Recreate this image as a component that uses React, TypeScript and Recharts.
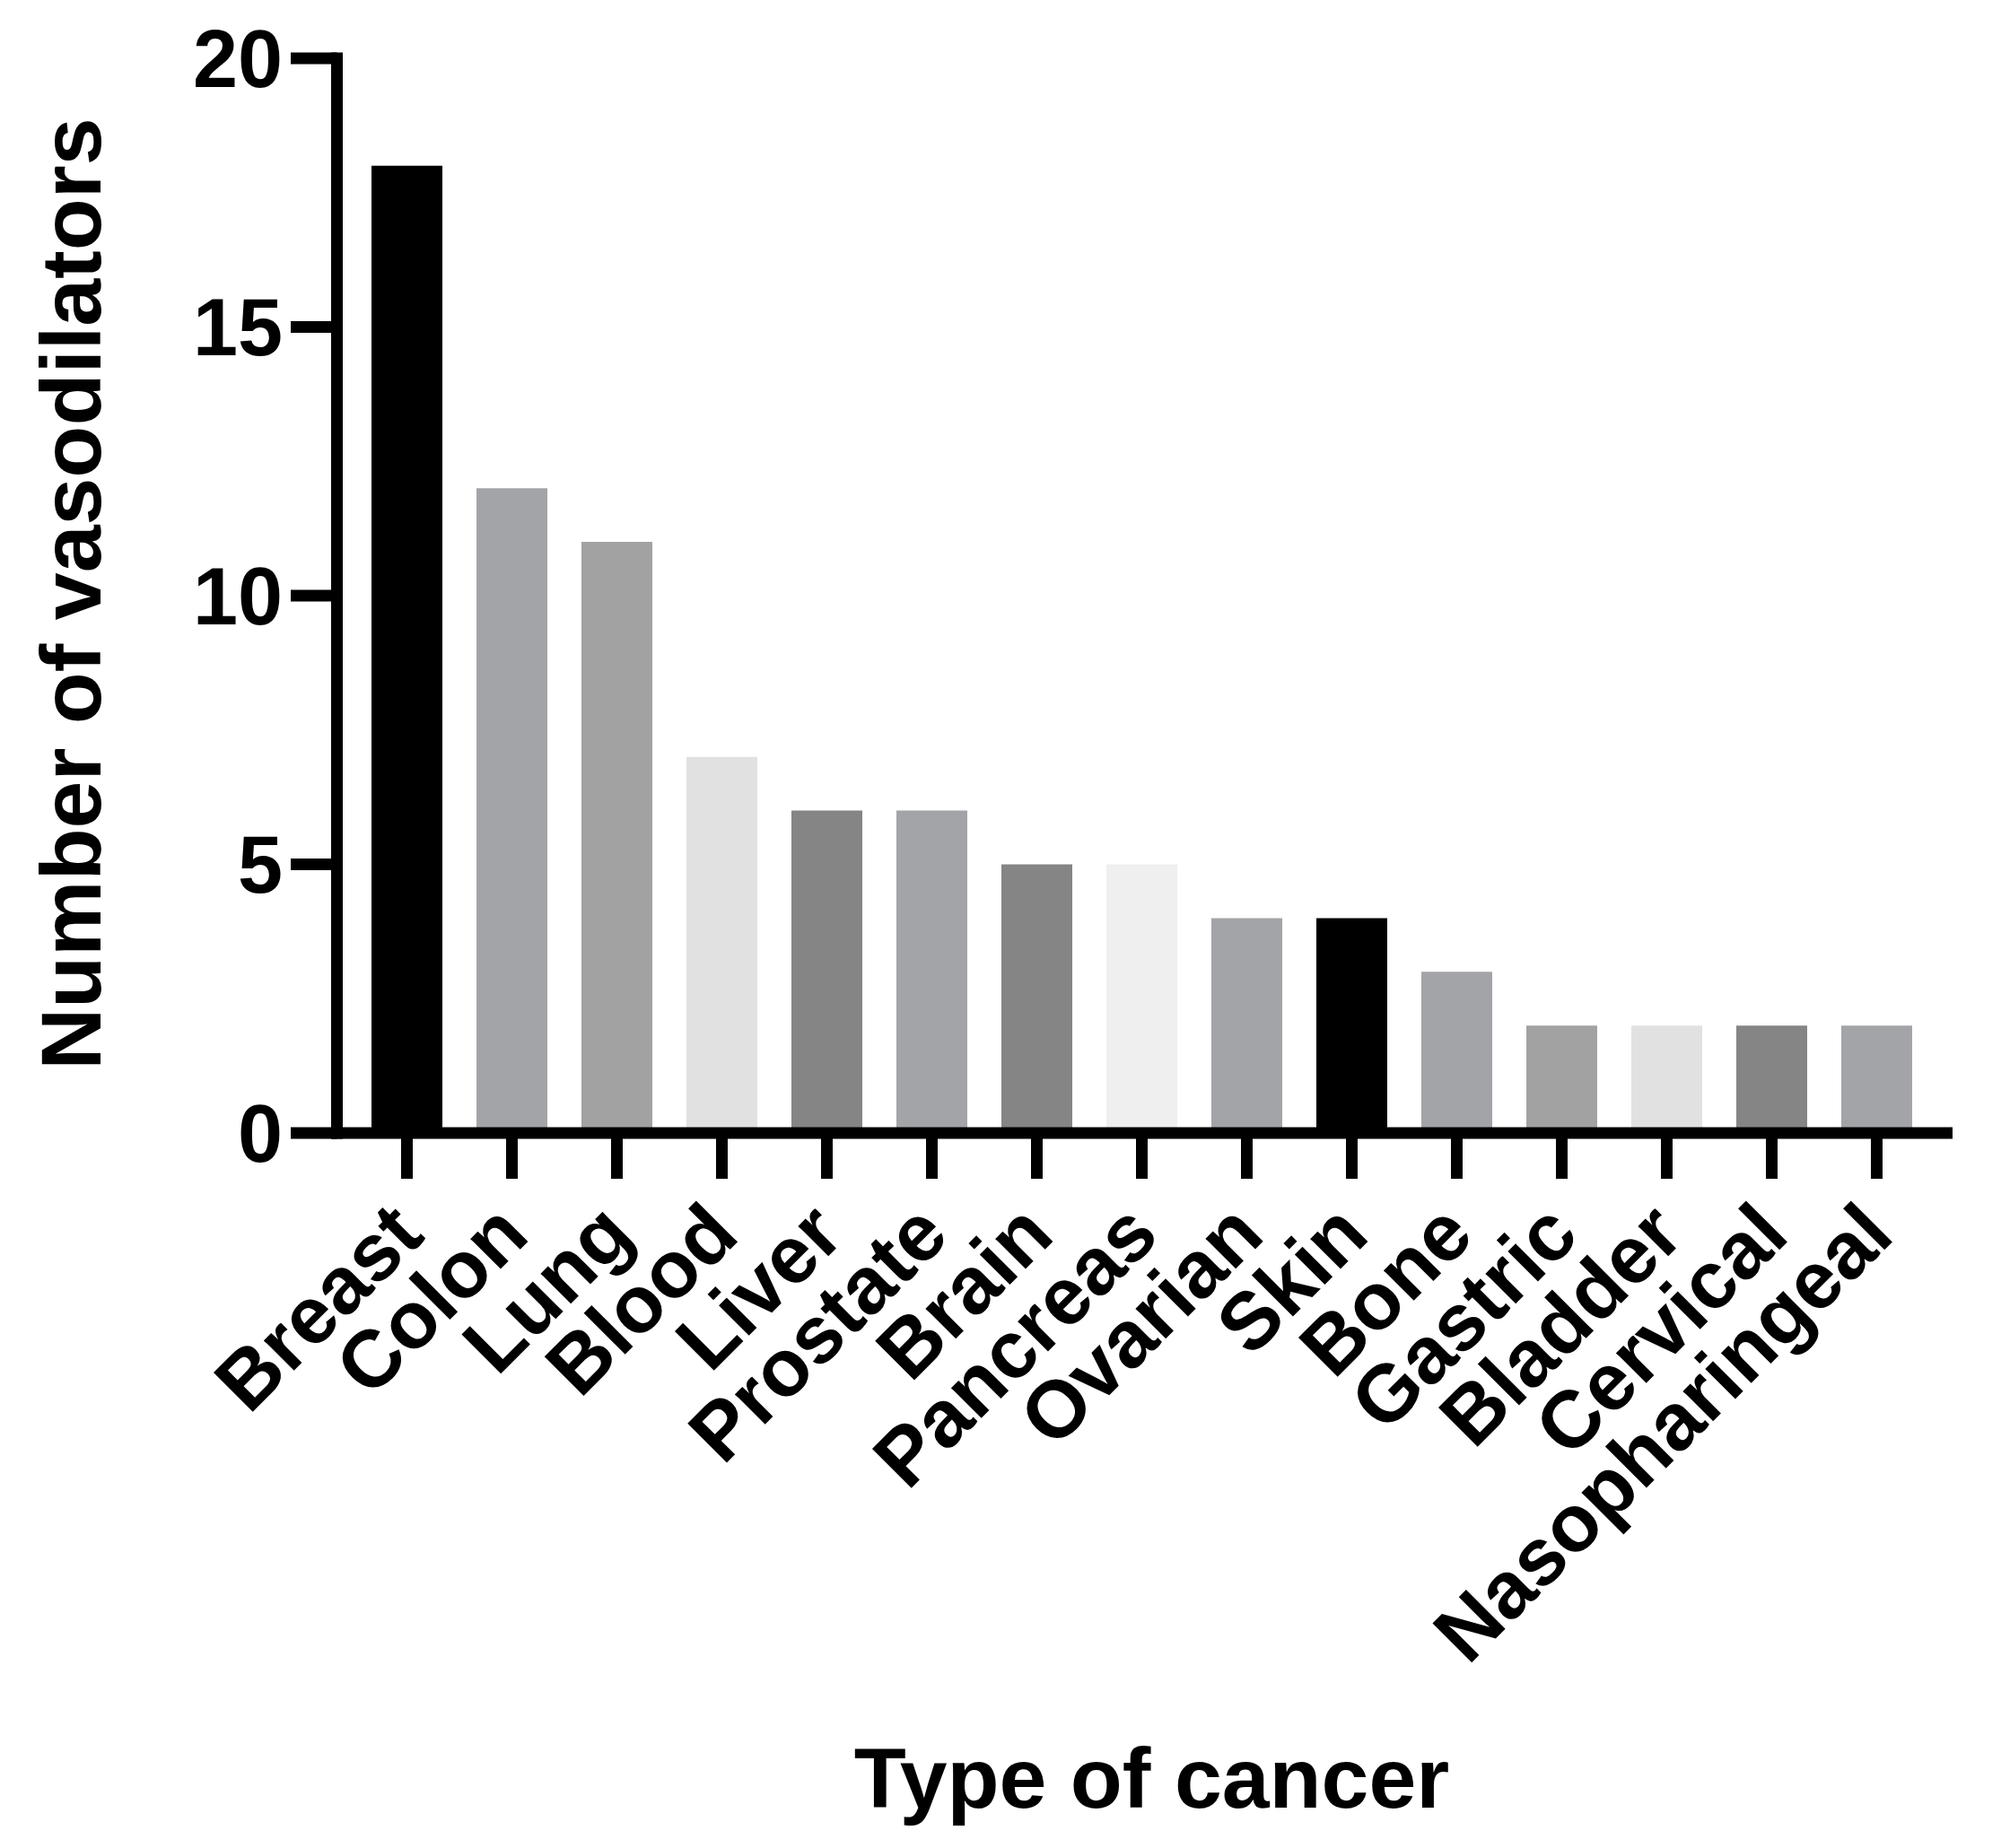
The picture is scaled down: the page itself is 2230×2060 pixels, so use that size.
import React from "react";
import { BarChart, Bar, XAxis, YAxis, Cell } from "recharts";

const categories = [
  "Breast", "Colon", "Lung", "Blood", "Liver", "Prostate", "Brain", "Pancreas",
  "Ovarian", "Skin", "Bone", "Gastric", "Bladder", "Cervical", "Nasopharingeal",
];
const counts = [18, 12, 11, 7, 6, 6, 5, 5, 4, 4, 3, 2, 2, 2, 2];
const barColors = [
  "#000000", "#a3a4a8", "#a2a2a2", "#e1e1e1", "#858585", "#a3a4a8", "#858585", "#efefef",
  "#a3a4a8", "#000000", "#a3a4a8", "#a2a2a2", "#e1e1e1", "#858585", "#a3a4a8",
];
const yTicks = [0, 5, 10, 15, 20];
const yTitle = "Number of vasodilators";
const xTitle = "Type of cancer";

const data = categories.map((c, i) => ({ name: c, value: counts[i] }));

const FONT = "'Liberation Sans', Arial, Helvetica, sans-serif";

const CategoryTick = (props: any) => {
  const { x, y, payload } = props;
  const tx = x + 22;
  const ty = y + 66;
  return (
    <text
      x={tx}
      y={ty}
      textAnchor="end"
      transform={`rotate(-45 ${tx} ${ty})`}
      fontFamily={FONT}
      fontWeight="bold"
      fontSize={90}
      fill="#000"
    >
      {payload.value}
    </text>
  );
};

const YTitle = (props: any) => {
  const vb = props.viewBox;
  const cx = 104;
  const cy = vb.y + vb.height / 2 - 2;
  return (
    <text
      x={cx}
      y={cy}
      textAnchor="middle"
      transform={`rotate(-90 ${cx} ${cy})`}
      fontFamily={FONT}
      fontWeight="bold"
      fontSize={95}
      fill="#000"
    >
      {yTitle}
    </text>
  );
};

const XTitle = (props: any) => {
  const vb = props.viewBox;
  const cx = vb.x + vb.width / 2 + 11;
  const cy = vb.y + 752;
  return (
    <text
      x={cx}
      y={cy}
      textAnchor="middle"
      fontFamily={FONT}
      fontWeight="bold"
      fontSize={95}
      fill="#000"
    >
      {xTitle}
    </text>
  );
};

export default function App() {
  return (
    <div style={{ width: 2222, height: 2052, background: "#fff" }}>
      <BarChart
        width={2222}
        height={2052}
        data={data}
        margin={{ top: 57, right: 60.5, bottom: 97, left: 0 }}
        barSize={79}
      >
        <XAxis
          dataKey="name"
          type="category"
          interval={0}
          padding={{ left: 19.5, right: 19.5 }}
          height={700}
          tickSize={51}
          tickMargin={0}
          axisLine={{ stroke: "#000", strokeWidth: 13, strokeLinecap: "square" }}
          tickLine={{ stroke: "#000", strokeWidth: 13 }}
          tick={<CategoryTick />}
          label={<XTitle />}
        />
        <YAxis
          type="number"
          domain={[0, 20]}
          ticks={yTicks}
          width={367.5}
          tickSize={51.5}
          tickMargin={9}
          axisLine={{ stroke: "#000", strokeWidth: 13, strokeLinecap: "square" }}
          tickLine={{ stroke: "#000", strokeWidth: 13 }}
          tick={{ fill: "#000", fontSize: 90, fontWeight: "bold", fontFamily: FONT }}
          label={<YTitle />}
        />
        <Bar dataKey="value" isAnimationActive={false}>
          {data.map((d, i) => (
            <Cell key={d.name} fill={barColors[i]} />
          ))}
        </Bar>
      </BarChart>
    </div>
  );
}
